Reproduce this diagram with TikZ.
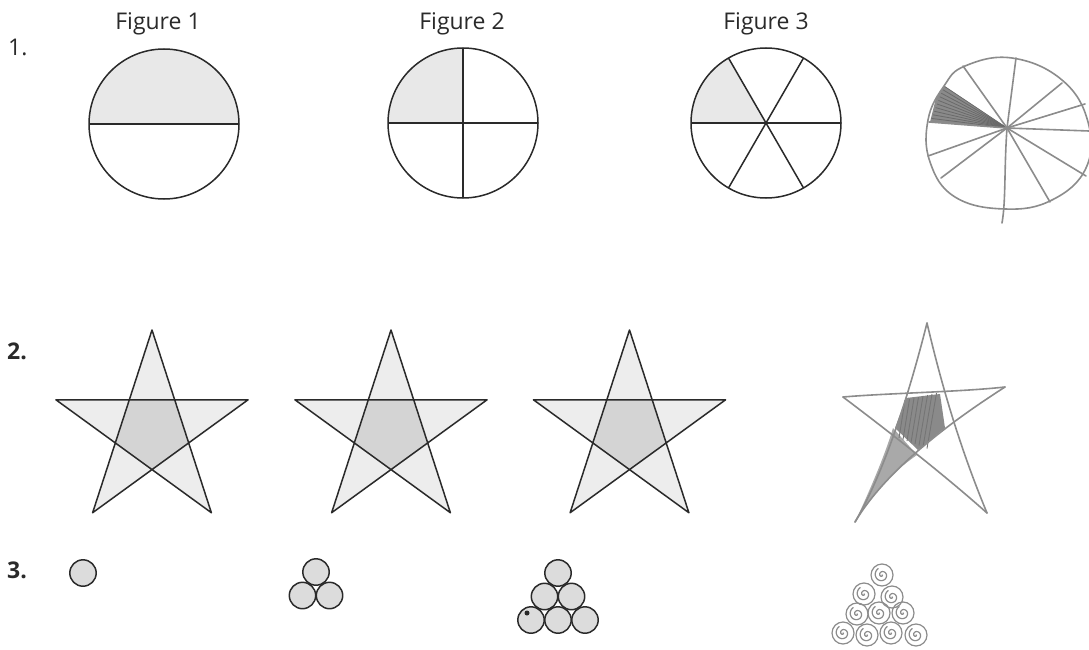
\documentclass[tikz,border=0pt]{standalone}
\usepackage{fontspec}
\setmainfont{Open Sans}
\definecolor{ink}{HTML}{2A2A2A}
\definecolor{pencil}{HTML}{8C8C8C}
\definecolor{fillA}{HTML}{E8E8E8}
\definecolor{starA}{HTML}{EDEDED}
\definecolor{starB}{HTML}{D4D4D4}
\definecolor{ball}{HTML}{DCDCDC}
\definecolor{hatch}{HTML}{8A8A8A}
\newcommand\mypentastar[3]{%
  \begin{scope}[shift={(#1,#2)}]
    \coordinate (T) at (-90:#3);
    \coordinate (R) at (-18:#3);
    \coordinate (BR) at (54:#3);
    \coordinate (BL) at (126:#3);
    \coordinate (L) at (198:#3);
    \fill[starA] (T) -- (BR) -- (L) -- (R) -- (BL) -- cycle;
    \fill[starB] (90:{0.382*#3}) -- (162:{0.382*#3}) -- (234:{0.382*#3}) -- (306:{0.382*#3}) -- (18:{0.382*#3}) -- cycle;
    \draw[ln] (T) -- (BR) -- (L) -- (R) -- (BL) -- cycle;
  \end{scope}}
\begin{document}
\begin{tikzpicture}[x=1pt,y=-1pt,
  ln/.style={line width=1.5pt,draw=ink,line join=round},
  pen/.style={line width=1.6pt,draw=pencil,line cap=round,line join=round},
  penthin/.style={line width=1.2pt,draw=pencil,line cap=round},
  lab/.style={font=\fontsize{23}{26}\selectfont,text=ink,inner sep=0pt},
  blab/.style={font=\bfseries\fontsize{23}{26}\selectfont,text=ink,inner sep=0pt}]
\useasboundingbox (0,0) rectangle (1089,650);
\fill[white] (0,0) rectangle (1089,650);

% labels
\node[lab] (f1) at (158,24) {Figure 1};
\node[lab] (f2) at (462,24) {Figure 2};
\node[lab] (f3) at (766,24) {Figure 3};
\node[lab,anchor=west] (n1) at (8,47) {1.};
\node[blab,anchor=west] (n2) at (7,351) {2.};
\node[blab,anchor=west] (n3) at (7,570) {3.};

% row 1 circles
\fill[fillA] (89,124) arc[start angle=180,end angle=360,radius=75] -- cycle;
\draw[ln] (164,124) circle[radius=75];
\draw[ln] (89,124) -- (239,124);

\fill[fillA] (463,123) -- (388,123) arc[start angle=180,end angle=270,radius=75] -- cycle;
\draw[ln] (463,123) circle[radius=75];
\draw[ln] (388,123) -- (538,123);
\draw[ln] (463,48) -- (463,198);

\fill[fillA] (766,123) -- (691,123) arc[start angle=180,end angle=240,radius=75] -- cycle;
\draw[ln] (766,123) circle[radius=75];
\draw[ln] (691,123) -- (841,123);
\draw[ln] (766,123) ++(240:75) -- ++(60:150);
\draw[ln] (766,123) ++(300:75) -- ++(120:150);

% hand-drawn circle
\fill[hatch] (1007,128) -- (944,86) -- (936,98) -- (930,122) -- cycle;
\foreach \k in {0,...,9}{\draw[line width=0.8pt,draw=ink!70] (1007,128) -- ({944-1.4*\k},{86+3.6*\k});}
\draw[pen] plot[smooth cycle,tension=0.7] coordinates {(1012,58) (1062,80) (1088,122) (1086,168) (1052,200) (1005,209) (955,197) (930,162) (928,120) (944,86) (965,66)};
\draw[pen] (1007,128) -- (1016,58);
\draw[pen] (1007,128) -- (963,66);
\draw[pen] (1007,128) -- (929,122);
\draw[pen] (1007,128) -- (928,156);
\draw[pen] (1007,128) -- (941,178);
\draw[pen] (1007,128) .. controls (1004,170) and (1006,200) .. (1002,223);
\draw[pen] (1007,128) -- (1050,202);
\draw[pen] (1007,128) -- (1086,176);
\draw[pen] (1007,128) -- (1089,131);
\draw[pen] (1007,128) -- (1085,104);
\draw[pen] (1007,128) -- (1062,83);

% row 2 stars
\mypentastar{152}{431}{101}
\mypentastar{391}{431}{101}
\mypentastar{629.5}{431}{101}

% hand-drawn star
\fill[pencil!75] (893,428) .. controls (885,455) and (870,490) .. (855,522) .. controls (870,495) and (895,470) .. (917,455) -- cycle;
\fill[hatch] (906,398) -- (940,394) -- (945,428) -- (918,450) -- (895,428) -- cycle;
\foreach \k in {0,...,7}{\draw[line width=0.9pt,draw=ink!65] ({905+4.5*\k},{400-\k}) -- ({899+4*\k},{438+1.5*\k});}
\draw[pen] (843,397) .. controls (890,393) and (960,392) .. (1005,387);
\draw[pen] (927,323) .. controls (945,400) and (965,460) .. (987,513);
\draw[pen] (927,323) .. controls (905,410) and (880,480) .. (855,522);
\draw[pen] (1005,387) .. controls (930,435) and (880,480) .. (855,522);
\draw[pen] (843,397) .. controls (900,440) and (950,480) .. (987,513);

% row 3 balls
\foreach \cx/\cy in {83/573, 316/572, 302.5/595.5, 329.5/595.5,
  558/573, 544.5/596.5, 571.5/596.5, 531/620, 558/620, 585/620}{
  \filldraw[fill=ball,draw=ink,line width=1.5pt] (\cx,\cy) circle[radius=13.2];}
\fill[ink] (527,613) circle[radius=2.5];

% hand-drawn spirals
\foreach \cx/\cy in {882/575, 864/594, 892/597, 857/614, 879/613, 903/613,
  843/633, 867/635, 891/633, 916/635}{
  \draw[penthin] (\cx,\cy) circle[radius=11];
  \draw[penthin] plot[domain=0:600,samples=40,smooth,variable=\t] ({\cx+7.5*\t/600*cos(\t)},{\cy+7.5*\t/600*sin(\t)});}
\end{tikzpicture}
\end{document}
